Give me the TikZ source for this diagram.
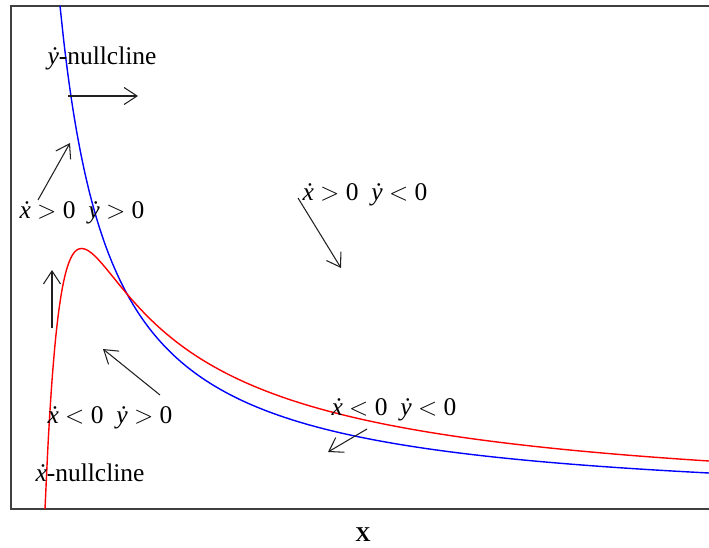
\documentclass[tikz,border=0pt]{standalone}
\usepackage{fontspec}
\setmainfont{Liberation Serif}
\usepackage{tikz}
\usetikzlibrary{arrows.meta}
\definecolor{frame}{HTML}{404040}
\definecolor{ink}{HTML}{202020}
\newcommand{\xd}{\textit{\.x}}
\newcommand{\yd}{\textit{\.y}}

\begin{document}
\begin{tikzpicture}[
  x=0.02cm,y=-0.02cm,
  every node/.style={font=\fontsize{14.5}{16}\selectfont,inner sep=1pt},
  box/.style={draw=frame,line width=1pt},
  xnull/.style={red,line width=0.8pt},
  ynull/.style={blue,line width=0.8pt},
  flow/.style={-{Straight Barb[length=2.6mm,width=3.4mm]},ink,line width=0.6pt}
]
  \useasboundingbox (0,0) rectangle (709,547);
  % Axes frame, open on the right as in the cut-off figure.
  \draw[box] (709,6) -- (11,6) -- (11,509) -- (709,509);

  % The two nullclines.
  \draw[ynull] plot[domain=60:709,samples=160,smooth] (\x,{509-251.64/(\x/100-0.1)});
  \draw[xnull] plot[domain=45:709,samples=200,smooth] (\x,{509-358.56/(\x/100+0.38)*(1-exp(-(\x-45)/18))});

  % Labels of the curves and of the four regions.
  \node (ylab) at (102,58) {\yd-nullcline};
  \node (xlab) at (90,473) {\xd-nullcline};
  \node (ppos) at (82,213) {\xd\ $>$ 0\ \ \yd\ $>$ 0};
  \node (pneg) at (365,195) {\xd\ $>$ 0\ \ \yd\ $<$ 0};
  \node (npos) at (110,418) {\xd\ $<$ 0\ \ \yd\ $>$ 0};
  \node (nneg) at (394,410) {\xd\ $<$ 0\ \ \yd\ $<$ 0};
  \node[font=\fontsize{12}{14}\selectfont\bfseries] (axis) at (363,535) {X};

  % Direction arrows.
  \coordinate (a1) at (68,96);  \coordinate (b1) at (138,96);
  \coordinate (a2) at (38,200); \coordinate (b2) at (70,143);
  \coordinate (a3) at (52,328); \coordinate (b3) at (52,270);
  \coordinate (a4) at (160,395); \coordinate (b4) at (103,349);
  \coordinate (a5) at (298,198); \coordinate (b5) at (341,268);
  \coordinate (a6) at (367,429); \coordinate (b6) at (328,452);
  \foreach \i in {1,...,6}
    \draw[flow] (a\i) -- (b\i);
\end{tikzpicture}
\end{document}
